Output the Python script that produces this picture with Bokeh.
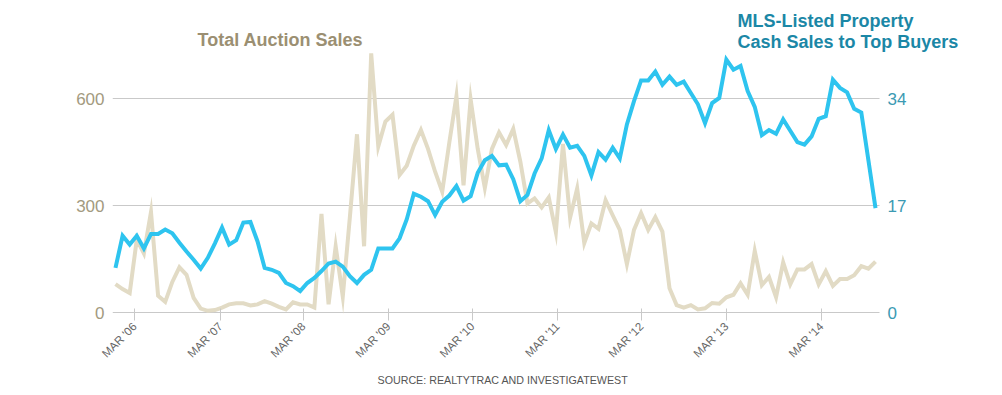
import math
from bokeh.plotting import figure
from bokeh.models import Range1d, LinearAxis, FixedTicker, Label, Title
from bokeh.embed import file_html
from bokeh.resources import INLINE

# ---- data (monthly points, early 2006 .. late 2014) ----
auction_sales = [
    80, 66, 55, 205, 166, 282, 47, 30, 86, 127, 106, 41, 11, 5, 7, 14,
    23, 26, 26, 20, 23, 32, 25, 16, 9, 29, 23, 23, 14, 277, 23,
    186, 45, 268, 500, 186, 727, 466, 536, 555, 386, 412, 468, 512, 459, 395,
    339, 477, 607, 357, 598, 459, 350, 459, 505, 470, 515, 423, 306, 320,
    295, 323, 225, 473, 266, 348, 195, 250, 235, 315, 273, 232, 136, 232, 279,
    232, 268, 227, 68, 21, 14, 21, 9, 12, 27, 25, 43, 50, 82, 50, 173,
    77, 100, 43, 141, 79, 121, 121, 136, 79, 116, 75, 94, 94, 105, 130, 123, 143,
]
mls_cash_sales = [
    7.1, 12.2, 10.8, 12.2, 10.2, 12.5, 12.5, 13.2, 12.6, 11.1, 9.7, 8.4, 7.0, 8.7, 11.0, 13.5,
    10.8, 11.5, 14.3, 14.4, 11.3, 7.1, 6.8, 6.3, 4.7, 4.2, 3.4, 4.7, 5.5, 6.6, 7.8,
    8.1, 7.3, 5.8, 4.7, 6.0, 6.8, 10.2, 10.2, 10.2, 11.8, 14.8, 18.9, 18.4, 17.7, 15.5,
    17.6, 18.6, 20.1, 17.8, 18.5, 22.2, 24.2, 24.9, 23.4, 23.5, 21.2, 17.7, 18.7, 22.1,
    24.5, 29.0, 26.0, 28.3, 26.2, 26.5, 24.9, 21.8, 25.5, 24.3, 26.2, 24.5, 29.9, 33.6, 36.9,
    36.9, 38.3, 36.2, 37.5, 36.2, 36.7, 34.9, 33.1, 30.1, 33.3, 34.1, 40.2, 38.6, 39.2, 35.2, 32.7,
    28.2, 29.0, 28.4, 30.7, 28.9, 27.1, 26.7, 28.0, 30.8, 31.2, 37.0, 35.7, 35.0, 32.4, 31.8, 24.2, 16.6,
]
month_index = list(range(len(auction_sales)))

tick_labels = ["MAR '06", "MAR '07", "MAR '08", "MAR '09", "MAR '10",
               "MAR '11", "MAR '12", "MAR '13", "MAR '14"]
tick_pos = [2.72, 14.78, 26.47, 38.43, 50.26, 62.23, 74.05, 86.0, 99.4]
left_ticks = [0, 300, 600]
right_ticks = [0, 17, 34]

# ---- geometry ----
W, H = 994, 390
FRAME_L, FRAME_R = 112, 964          # frame reaches under the right-hand title
FRAME_T, BASE_Y, FRAME_B = 8, 315, 323
PX_PER_UNIT = 0.36                   # left axis pixels per sale
PX_PER_MONTH = 7.103
X0 = -0.42
X_END = X0 + (FRAME_R - FRAME_L) / PX_PER_MONTH
X_AXIS_END = 107.56                  # where grid / axis line stop (right axis sits here)
Y_START = -(FRAME_B - BASE_Y) / PX_PER_UNIT
Y_END = (BASE_Y - FRAME_T) / PX_PER_UNIT

p = figure(width=W, height=H, output_backend="svg", toolbar_location=None,
           x_range=Range1d(X0, X_END), y_range=Range1d(Y_START, Y_END),
           min_border_left=FRAME_L, min_border_right=W - FRAME_R,
           min_border_top=FRAME_T, min_border_bottom=H - FRAME_B)
p.outline_line_color = None
p.xgrid.visible = False
p.ygrid.ticker = FixedTicker(ticks=left_ticks)
p.ygrid.grid_line_color = "#c9c9c9"
p.ygrid.grid_line_width = 1
p.ygrid.cross_bounds = (X0, X_AXIS_END)

p.extra_y_ranges = {"mls": Range1d(Y_START * 34 / 600, Y_END * 34 / 600)}

# left axis
ya = p.yaxis[0]
ya.ticker = FixedTicker(ticks=left_ticks)
ya.axis_line_color = None
ya.major_tick_line_color = None
ya.minor_tick_line_color = None
ya.major_label_text_font = "Liberation Sans"
ya.major_label_text_font_size = "17px"
ya.major_label_text_color = "#a39a80"
ya.major_label_standoff = 2

# right axis, pinned at the end of the grid
ra = LinearAxis(y_range_name="mls", ticker=FixedTicker(ticks=right_ticks),
                fixed_location=X_AXIS_END)
ra.axis_line_color = None
ra.major_tick_line_color = None
ra.minor_tick_line_color = None
ra.major_label_text_font = "Liberation Sans"
ra.major_label_text_font_size = "17px"
ra.major_label_text_color = "#3b9ab3"
ra.major_label_standoff = 2
p.add_layout(ra, "right")

# bottom axis (baseline itself is the 0 grid line; ticks reach up across it)
xa = p.xaxis[0]
xa.ticker = FixedTicker(ticks=tick_pos)
xa.major_label_overrides = {tp: tl for tp, tl in zip(tick_pos, tick_labels)}
xa.major_label_orientation = math.pi / 4
xa.axis_line_color = None
xa.major_tick_line_color = "#c9c9c9"
xa.major_tick_in = 12
xa.major_tick_out = 0
xa.minor_tick_line_color = None
xa.major_label_text_font = "Liberation Sans"
xa.major_label_text_font_size = "11.5px"
xa.major_label_text_color = "#666666"
xa.major_label_standoff = 4

# series
p.line(month_index, auction_sales, line_color="#e2dbc5", line_width=4, line_join="miter")
p.line(month_index, mls_cash_sales, y_range_name="mls", line_color="#2ec4ef",
       line_width=4, line_join="miter")

# titles
title_style = dict(text_baseline="middle", text_font="Liberation Sans",
                   text_font_style="bold", text_font_size="18px")
p.add_layout(Label(x=11.55, y=763.9, text="Total Auction Sales",
                   text_color="#9b8f72", **title_style))
p.add_layout(Label(x=87.57, y=816.7, text="MLS-Listed Property",
                   text_color="#1b87a6", **title_style))
p.add_layout(Label(x=87.57, y=758.3, text="Cash Sales to Top Buyers",
                   text_color="#1b87a6", **title_style))

p.add_layout(Title(text="SOURCE: REALTYTRAC AND INVESTIGATEWEST", align="left", offset=265,
                   text_font="Liberation Sans", text_font_size="10.7px",
                   text_font_style="normal", text_color="#555555"), "below")

open("out.html", "w").write(file_html(p, INLINE))
